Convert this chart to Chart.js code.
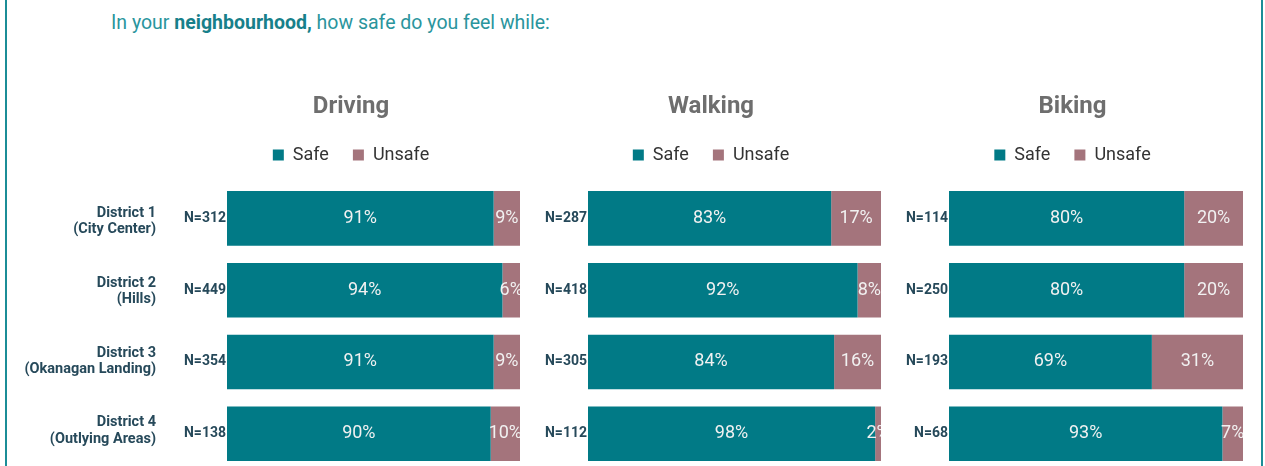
<!DOCTYPE html>
<html>
<head>
<meta charset="utf-8">
<script src="https://cdn.jsdelivr.net/npm/chart.js@4.4.1/dist/chart.umd.min.js"></script>
<style>
  html, body { margin: 0; padding: 0; background: #fff; width: 1265px; height: 466px; overflow: hidden; font-family: Roboto, sans-serif; }
  .frame { position: absolute; left: 5px; top: 0; width: 1254px; height: 466px; border-left: 2px solid #1b8d97; border-right: 2px solid #1b8d97; }
  .question { position: absolute; left: 111px; top: 11px; font-size: 19.5px; color: #2a959d; white-space: nowrap; }
  .question b { color: #17808a; }
  canvas { position: absolute; top: 60px; }
</style>
</head>
<body>
<div class="frame"></div>
<div class="question">In your <b>neighbourhood,</b> how safe do you feel while:</div>
<canvas id="labels" width="162" height="419" style="left:0px"></canvas>
<canvas id="driving" width="344" height="419" style="left:182px"></canvas>
<canvas id="walking" width="344" height="419" style="left:541px"></canvas>
<canvas id="biking" width="345" height="419" style="left:902px"></canvas>
<script>
// data
var districts = [['District 1', '(City Center)'], ['District 2', '(Hills)'], ['District 3', '(Okanagan Landing)'], ['District 4', '(Outlying Areas)']];
var seriesNames = ['Safe', 'Unsafe'];

var drivingN = [312, 449, 354, 138];
var drivingSafe = [91, 94, 91, 90];
var drivingUnsafe = [9, 6, 9, 10];

var walkingN = [287, 418, 305, 112];
var walkingSafe = [83, 92, 84, 98];
var walkingUnsafe = [17, 8, 16, 2];

var bikingN = [114, 250, 193, 68];
var bikingSafe = [80, 80, 69, 93];
var bikingUnsafe = [20, 20, 31, 7];

var SAFE = '#017a86';
var UNSAFE = '#a4747c';
var LABEL_COLOR = '#26495a';

Chart.defaults.font.family = 'Roboto, sans-serif';
Chart.defaults.animation = false;

// percent text in the middle of each segment, cut at the plot edge
var barText = {
  id: 'barText',
  afterDatasetsDraw: function(chart) {
    var ctx = chart.ctx, area = chart.chartArea;
    ctx.save();
    ctx.beginPath();
    ctx.rect(area.left, area.top, area.right - area.left, area.bottom - area.top);
    ctx.clip();
    ctx.font = '18px Roboto, sans-serif';
    ctx.fillStyle = '#f1f1f1';
    ctx.textAlign = 'center';
    ctx.textBaseline = 'middle';
    chart.data.datasets.forEach(function(ds, i) {
      chart.getDatasetMeta(i).data.forEach(function(bar, j) {
        ctx.fillText(ds.data[j] + '%', (bar.x + bar.base) / 2, bar.y);
      });
    });
    ctx.restore();
  }
};

function buildChart(id, title, nList, safe, unsafe, yWidth) {
  return new Chart(document.getElementById(id), {
    type: 'bar',
    data: {
      labels: nList.map(function(n) { return 'N=' + n; }),
      datasets: [
        { label: seriesNames[0], data: safe, backgroundColor: SAFE, borderWidth: 0 },
        { label: seriesNames[1], data: unsafe, backgroundColor: UNSAFE, borderWidth: 0 }
      ]
    },
    options: {
      indexAxis: 'y',
      responsive: false,
      barPercentage: 0.76,
      categoryPercentage: 1,
      layout: { padding: { right: yWidth === 45 ? 6 : 4, bottom: 3.5 } },
      plugins: {
        title: {
          display: true,
          text: title,
          color: '#6e6e6e',
          font: { size: 24, weight: 'bold' },
          padding: { top: 32.3, bottom: 0.9 }
        },
        legend: {
          display: true,
          labels: {
            color: '#333',
            font: { size: 18 },
            boxWidth: 11,
            boxHeight: 11,
            padding: 24
          }
        },
        tooltip: { enabled: false }
      },
      scales: {
        x: {
          stacked: true,
          min: 0,
          max: 100,
          position: 'top',
          ticks: { display: false },
          grid: { display: false, drawTicks: false },
          border: { display: false },
          afterFit: function(s) { s.height = 8.5; }
        },
        y: {
          stacked: true,
          ticks: { color: LABEL_COLOR, font: { size: 14, weight: 'bold' }, padding: 1 },
          grid: { display: false, drawTicks: false },
          border: { display: false },
          afterFit: function(s) { s.width = yWidth; }
        }
      }
    },
    plugins: [barText]
  });
}

var driving = buildChart('driving', 'Driving', drivingN, drivingSafe, drivingUnsafe, 45);
buildChart('walking', 'Walking', walkingN, walkingSafe, walkingUnsafe, 47);
buildChart('biking', 'Biking', bikingN, bikingSafe, bikingUnsafe, 47);

// district names share the rows of the first chart
var area = driving.chartArea;
new Chart(document.getElementById('labels'), {
  type: 'bar',
  data: { labels: districts, datasets: [] },
  options: {
    indexAxis: 'y',
    responsive: false,
    layout: { padding: { top: area.top, bottom: driving.height - area.bottom, right: 0 } },
    plugins: { legend: { display: false }, title: { display: false }, tooltip: { enabled: false } },
    scales: {
      x: { type: 'linear', display: false },
      y: {
        type: 'category',
        ticks: { color: LABEL_COLOR, font: { size: 14.5, weight: 'bold', lineHeight: 1.12 }, padding: 1, labelOffset: 4 },
        grid: { display: false, drawTicks: false },
        border: { display: false },
        afterFit: function(s) { s.width = 157; }
      }
    }
  }
});
</script>
</body>
</html>
